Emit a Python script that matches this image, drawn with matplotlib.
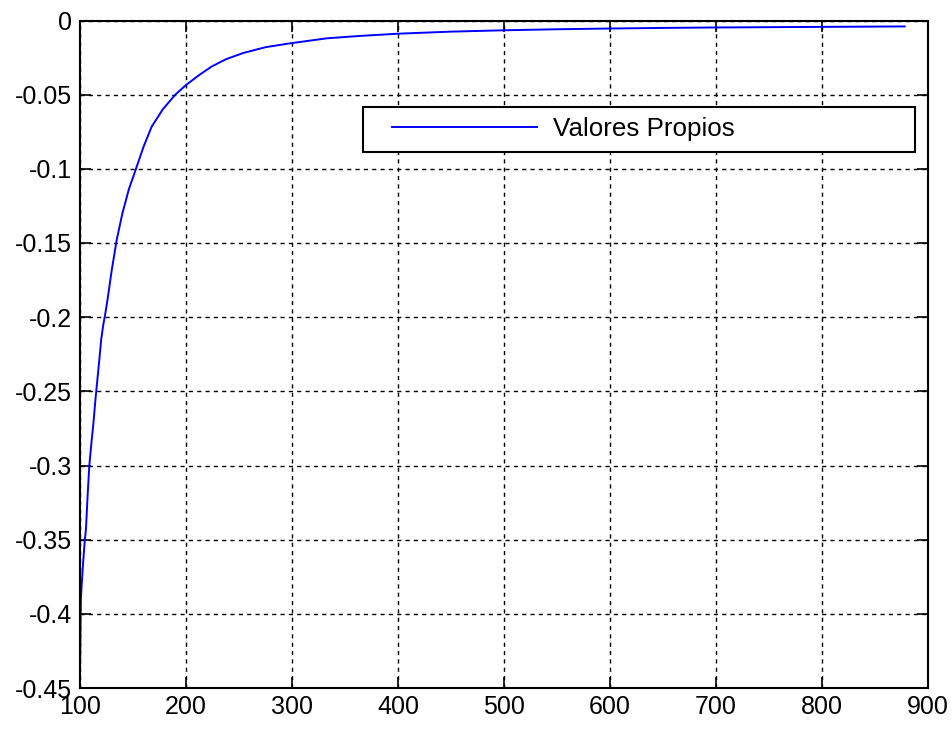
import matplotlib
matplotlib.use("Agg")
import matplotlib.pyplot as plt
from matplotlib.legend_handler import HandlerLine2D

# eigenvalue curve
x_vals = [100, 100.8, 102.5, 104, 105.7, 107.2, 108.8, 111, 112.6, 114.5,
          116.4, 118.2, 120, 122, 124, 126, 130, 134.6, 140, 146,
          152.8, 160, 167.6, 178, 189.6, 200, 212, 224, 238, 254,
          275, 298, 333, 364, 400, 450, 500, 550, 600, 650,
          700, 750, 800, 878]
y_vals = [-0.44, -0.39, -0.37, -0.355, -0.342, -0.32, -0.30, -0.283, -0.272, -0.256,
          -0.242, -0.229, -0.215, -0.205, -0.197, -0.188, -0.168, -0.148, -0.13, -0.114,
          -0.1, -0.085, -0.0716, -0.06, -0.0502, -0.0435, -0.037, -0.0311, -0.026, -0.0219,
          -0.018, -0.0154, -0.012, -0.0104, -0.0089, -0.0075, -0.0066, -0.0059, -0.0054, -0.005,
          -0.0047, -0.0045, -0.0043, -0.004]

x_ticks = [100, 200, 300, 400, 500, 600, 700, 800, 900]
y_ticks = [0, -0.05, -0.1, -0.15, -0.2, -0.25, -0.3, -0.35, -0.4, -0.45]
y_labels = ["0", "-0.05", "-0.1", "-0.15", "-0.2", "-0.25", "-0.3", "-0.35", "-0.4", "-0.45"]

fig = plt.figure(figsize=(9.53, 7.31), dpi=100)
ax = fig.add_axes([80 / 953, 1 - 688 / 731, 848 / 953, 667.5 / 731])

line, = ax.plot(x_vals, y_vals, color=(0, 0, 1), lw=1.4, label="Valores Propios")

ax.set_xlim(100, 900)
ax.set_ylim(-0.45, 0)
ax.set_xticks(x_ticks)
ax.set_yticks(y_ticks)
ax.set_yticklabels(y_labels)

for lab in ax.get_xticklabels():
    lab.set_family(["Liberation Sans", "DejaVu Sans"])
    lab.set_fontsize(18)
for lab in ax.get_yticklabels():
    lab.set_family(["Liberation Sans", "DejaVu Sans"])
    lab.set_fontsize(18)

ax.tick_params(direction="in", length=8, width=1.2, top=True, right=True,
               colors="black")
ax.tick_params(axis="x", pad=5)
ax.tick_params(axis="y", pad=6)
ax.grid(True, color="black", linestyle=(0, (3, 3)), linewidth=1.0)
for sp in ax.spines.values():
    sp.set_linewidth(1.5)
    sp.set_color("black")

# legend box
leg = ax.legend(loc="upper left",
                bbox_to_anchor=((363 - 80) / 848, 1 - (107 - 20.5) / 667.5,
                                (915 - 363) / 848, 0.0),
                mode="expand", borderaxespad=0, fancybox=False,
                edgecolor="black", handlelength=6.29, handletextpad=0.62,
                borderpad=0.4,
                handler_map={line: HandlerLine2D(xpad=0.72)},
                prop={"family": ["Liberation Sans", "DejaVu Sans"], "size": 18.7})
leg.get_frame().set_linewidth(1.5)
leg.get_frame().set_alpha(1)

fig.savefig("out.png", dpi=100)
